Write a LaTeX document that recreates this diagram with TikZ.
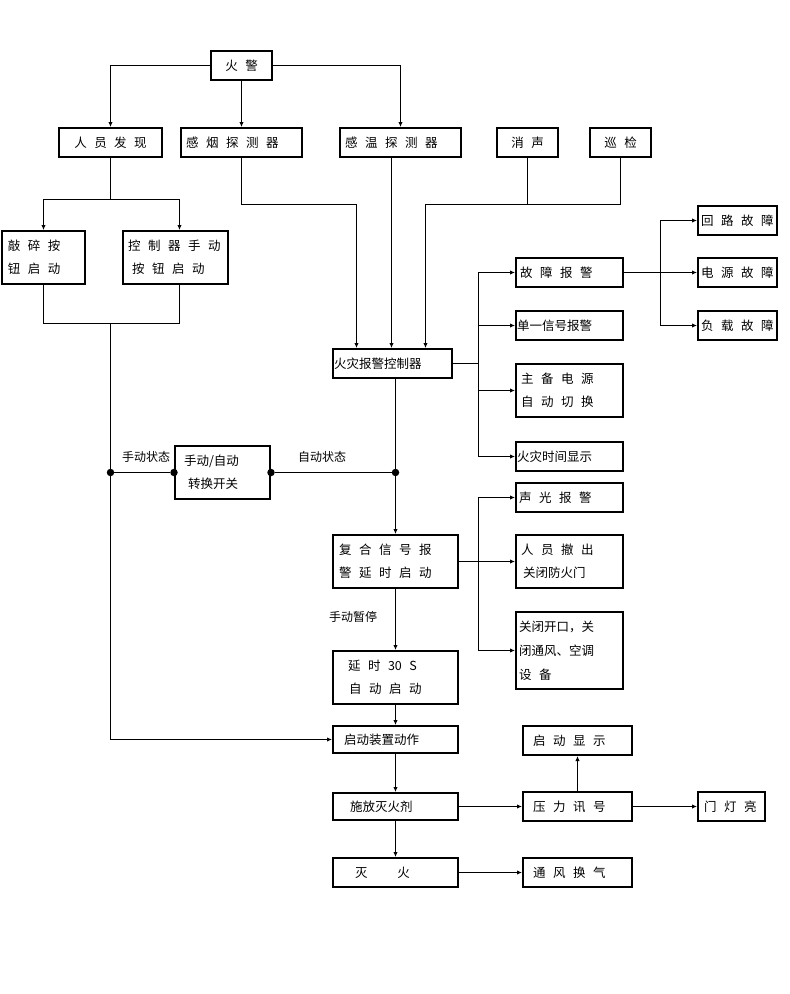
\documentclass[tikz,border=0pt]{standalone}
\usepackage{fontspec}
\newfontfamily\cjk{Noto Sans CJK SC}
\usetikzlibrary{arrows.meta}
\newcommand{\gp}{\hspace{0.6em}}
\begin{document}
\begin{tikzpicture}[x=1pt,y=-1pt,
  box/.style={draw, line width=2pt, inner sep=0pt, font=\cjk\fontsize{12.5}{23}\selectfont, align=left},
  lbl/.style={inner sep=0pt, font=\cjk\fontsize{12}{14}\selectfont},
  ln/.style={line width=1pt},
  arr/.style={line width=1pt, -{Latex[length=5pt,width=4.5pt]}},
  dot/.style={circle, fill, inner sep=0pt, minimum size=7.5pt}]
\fill[white] (0,0) rectangle (790,994);
\path[use as bounding box] (0,0) rectangle (790,994);

% top row
\node[box, minimum width=61pt, minimum height=29pt, text width=51pt, align=center] (fire) at (241.5,65.5) {火\gp 警};
\node[box, minimum width=103pt, minimum height=29pt, text width=90pt, align=center] (ren) at (110.5,142.5) {人\gp 员\gp 发\gp 现};
\node[box, minimum width=121pt, minimum height=29pt, text width=111pt] (yan) at (241.5,142.5) {感\gp 烟\gp 探\gp 测\gp 器};
\node[box, minimum width=121pt, minimum height=29pt, text width=111pt] (wen) at (400.5,142.5) {感\gp 温\gp 探\gp 测\gp 器};
\node[box, minimum width=61pt, minimum height=29pt, text width=51pt, align=center] (xiao) at (527.5,142.5) {消\gp 声};
\node[box, minimum width=61pt, minimum height=29pt, text width=51pt, align=center] (xun) at (620.5,142.5) {巡\gp 检};

% manual buttons
\node[box, minimum width=83pt, minimum height=53pt, text width=71pt] (qiao) at (43.5,257.5) {敲\gp 碎\gp 按\\钮\gp 启\gp 动};
\node[box, minimum width=105pt, minimum height=53pt, text width=95pt] (kong) at (175.5,257.5) {控\gp 制\gp 器\gp 手\gp 动\\\hspace{4pt}按\gp 钮\gp 启\gp 动};

% controller
\node[box, minimum width=119pt, minimum height=29pt, text width=117pt] (ctrl) at (392.5,363.5) {火灾报警控制器};

% right column 1
\node[box, minimum width=107pt, minimum height=29pt, text width=99pt] (gz) at (569.5,272.5) {故\gp 障\gp 报\gp 警};
\node[box, minimum width=107pt, minimum height=29pt, text width=105pt] (dy) at (569.5,325.5) {单一信号报警};
\node[box, minimum width=107pt, minimum height=53pt, text width=97pt] (zb) at (569.5,390.5) {主\gp 备\gp 电\gp 源\\自\gp 动\gp 切\gp 换};
\node[box, minimum width=107pt, minimum height=29pt, text width=105pt] (sj) at (569.5,456.5) {火灾时间显示};

% fault column
\node[box, minimum width=79pt, minimum height=29pt, text width=73pt] (hl) at (737.5,220.5) {回\gp 路\gp 故\gp 障};
\node[box, minimum width=79pt, minimum height=29pt, text width=73pt] (dyg) at (737.5,272.5) {电\gp 源\gp 故\gp 障};
\node[box, minimum width=79pt, minimum height=29pt, text width=73pt] (fz) at (737.5,325.5) {负\gp 载\gp 故\gp 障};

% switch
\node[box, minimum width=95pt, minimum height=53pt, text width=77pt] (sw) at (222.5,472.5) {手动/自动\\\hspace{4pt}转换开关};

% center column
\node[box, minimum width=125pt, minimum height=53pt, text width=113pt] (fh) at (395.5,561.5) {复\gp 合\gp 信\gp 号\gp 报\\警\gp 延\gp 时\gp 启\gp 动};
\node[box, minimum width=125pt, minimum height=53pt, text width=95pt] (ys) at (395.5,677.5) {延\gp 时\gp 30\gp S\\\hspace{1pt}自\gp 动\gp 启\gp 动};
\node[box, minimum width=125pt, minimum height=27pt, text width=103pt] (qd) at (395.5,739.5) {启动装置动作};
\node[box, minimum width=125pt, minimum height=27pt, text width=91pt] (sf) at (395.5,806.5) {施放灭火剂};
\node[box, minimum width=125pt, minimum height=29pt, text width=81pt] (mh) at (395.5,872.5) {灭\hspace{2.4em}火};

% right column 2
\node[box, minimum width=107pt, minimum height=29pt, text width=101pt] (sg) at (569.5,497.5) {声\gp 光\gp 报\gp 警};
\node[box, minimum width=107pt, minimum height=53pt, text width=97pt] (ry) at (569.5,561.5) {人\gp 员\gp 撤\gp 出\\\hspace{2pt}关闭防火门};
\node[box, minimum width=107pt, minimum height=77pt, text width=101pt, font=\cjk\fontsize{12.5}{24}\selectfont] (gb) at (569.5,650.5) {关闭开口，关\\闭通风、空调\\设\gp 备};

% bottom right
\node[box, minimum width=109pt, minimum height=29pt, text width=89pt] (qx) at (577.5,740.5) {启\gp 动\gp 显\gp 示};
\node[box, minimum width=109pt, minimum height=29pt, text width=89pt] (yl) at (577.5,806.5) {压\gp 力\gp 讯\gp 号};
\node[box, minimum width=67pt, minimum height=29pt, text width=55pt] (md) at (731.5,806.5) {门\gp 灯\gp 亮};
\node[box, minimum width=109pt, minimum height=29pt, text width=89pt] (tf) at (577.5,872.5) {通\gp 风\gp 换\gp 气};

% labels
\node[lbl] (l1) at (146,457) {手动状态};
\node[lbl] (l2) at (322,457) {自动状态};
\node[lbl] (l3) at (353,617) {手动暂停};

% dots
\node[dot] (dL) at (110.5,472.5) {};
\node[dot] (dsl) at (sw.west) {};
\node[dot] (dsr) at (sw.east) {};
\node[dot] (dR) at (395.5,472.5) {};

% connectors top
\draw[arr] (fire.west) -| (ren.north);
\draw[arr] (fire.south) -- (yan.north);
\draw[arr] (fire.east) -| (wen.north);
\coordinate (j1) at (110.5,199.5);
\draw[ln] (ren.south) -- (j1);
\draw[arr] (j1) -| (qiao.north);
\draw[arr] (j1) -| ([xshift=4pt]kong.north);
\coordinate (j2) at (110.5,323.5);
\draw[ln] (qiao.south) |- (j2) -| ([xshift=4pt]kong.south);
\draw[ln] (j2) -- (dL);
\draw[arr] (dL) |- (qd.west);
\draw[ln] (dL) -- (dsl);
\draw[ln] (dsr) -- (dR);

% detectors to controller
\coordinate (c1) at (356.5,204.5);
\draw[arr] (yan.south) |- (c1) -- (c1 |- ctrl.north);
\coordinate (c2) at (391.5,157);
\draw[arr] (c2 |- wen.south) -- (c2 |- ctrl.north);
\coordinate (c3) at (425.5,204.5);
\draw[ln] (xiao.south) -- (xiao.south |- c3);
\draw[arr] (xun.south) |- (c3) -- (c3 |- ctrl.north);

% controller outputs
\coordinate (b1) at (478.5,363.5);
\draw[ln] (ctrl.east) -- (b1);
\draw[arr] (b1) |- (gz.west);
\draw[arr] (b1) |- (dy.west);
\draw[arr] (b1) |- (zb.west);
\draw[arr] (b1) |- (sj.west);
\coordinate (b2) at (660.5,272.5);
\draw[ln] (gz.east) -- (b2);
\draw[arr] (b2) |- (hl.west);
\draw[arr] (b2) -- (dyg.west);
\draw[arr] (b2) |- (fz.west);

% spine
\draw[ln] (dR |- ctrl.south) -- (dR);
\draw[arr] (dR) -- (dR |- fh.north);
\coordinate (b3) at (478.5,561.5);
\draw[ln] (fh.east) -- (b3);
\draw[arr] (b3) |- (sg.west);
\draw[arr] (b3) -- (ry.west);
\draw[arr] (b3) |- (gb.west);
\draw[arr] (fh.south) -- (ys.north);
\draw[arr] (ys.south) -- (qd.north);
\draw[arr] (qd.south) -- (sf.north);
\draw[arr] (sf.south) -- (mh.north);
\draw[arr] (sf.east) -- (yl.west);
\draw[arr] (yl.north) -- (qx.south);
\draw[arr] (yl.east) -- (md.west);
\draw[arr] (mh.east) -- (tf.west);
\end{tikzpicture}
\end{document}
